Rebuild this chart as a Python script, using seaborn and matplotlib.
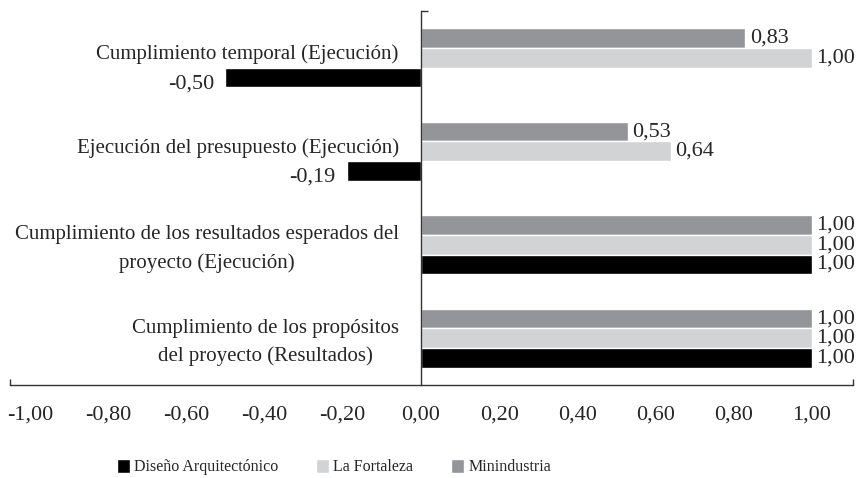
import matplotlib
matplotlib.use('Agg')
import matplotlib.pyplot as plt
import seaborn as sns
import pandas as pd
from matplotlib.patches import Patch

categorias = ['Cumplimiento temporal (Ejecución)',
              'Ejecución del presupuesto (Ejecución)',
              'Cumplimiento de los resultados esperados del\nproyecto (Ejecución)',
              'Cumplimiento de los propósitos\ndel proyecto (Resultados)']
diseno = [-0.50, -0.19, 1.00, 1.00]
fortaleza = [1.00, 0.64, 1.00, 1.00]
minindustria = [0.83, 0.53, 1.00, 1.00]

series = ['Diseño Arquitectónico', 'La Fortaleza', 'Minindustria']
colores = {'Diseño Arquitectónico': '#000000',
           'La Fortaleza': '#d1d3d4',
           'Minindustria': '#939598'}
ticks_x = [-1.0, -0.8, -0.6, -0.4, -0.2, 0.0, 0.2, 0.4, 0.6, 0.8, 1.0]


def fmt(v):
    return f"{v:.2f}".replace('.', ',')


def main():
    sns.set_theme(style='white')
    plt.rcParams['font.family'] = ['Liberation Serif', 'DejaVu Serif']
    plt.rcParams['font.size'] = 15

    filas = []
    for s, vals in zip(series, [diseno, fortaleza, minindustria]):
        for c, v in zip(categorias, vals):
            filas.append({'categoria': c, 'serie': s, 'valor': v})
    df = pd.DataFrame(filas)

    fig = plt.figure(figsize=(8.61, 4.78), dpi=100)
    ax = fig.add_axes([9.5 / 861, (478 - 385) / 478, (853 - 9.5) / 861, (385 - 11) / 478])

    sns.barplot(data=df, y='categoria', x='valor', hue='serie',
                order=categorias,
                hue_order=['Minindustria', 'La Fortaleza', 'Diseño Arquitectónico'],
                palette=colores, orient='h', width=0.63, saturation=1,
                errorbar=None, legend=False, ax=ax)

    for cont in ax.containers:
        txts = ax.bar_label(cont, labels=[fmt(v) for v in cont.datavalues],
                            padding=3, fontsize=16)
        for t, v in zip(txts, cont.datavalues):
            if v < 0:
                t.set_x(-8)
                t.set_y(-4.5)

    ax.set_xlim(-1.052, 1.105)
    ax.set_ylim(3.5, -0.5)
    ax.set_xlabel('')
    ax.set_ylabel('')

    ax.set_xticks(ticks_x)
    ax.set_xticklabels([fmt(t) for t in ticks_x])
    ax.set_xticks([-1.052, 1.105], minor=True)
    ax.set_yticks(range(len(categorias)))
    ax.set_yticklabels([])
    ax.set_yticks([-0.5], minor=True)
    ax.tick_params(axis='x', which='both', bottom=True)
    ax.tick_params(axis='y', which='both', left=True)
    ax.tick_params(axis='x', which='major', length=0, pad=15, labelsize=16)
    ax.tick_params(axis='x', which='minor', length=4, width=1, direction='in', color='#333333')
    ax.tick_params(axis='y', which='major', length=0)
    ax.tick_params(axis='y', which='minor', length=5, width=1, direction='in', color='#333333')

    # etiquetas de categoria junto al eje en x=0
    for i, c in enumerate(categorias):
        dy = 2.5 if '\n' not in c else -3
        ax.annotate(c, xy=(0, i), xycoords='data', xytext=(-16, dy),
                    textcoords='offset points', ha='right', va='center',
                    multialignment='center', linespacing=1.6, fontsize=15)

    ax.spines['top'].set_visible(False)
    ax.spines['right'].set_visible(False)
    ax.spines['left'].set_position(('data', 0))
    for sp in ['left', 'bottom']:
        ax.spines[sp].set_color('#333333')
        ax.spines[sp].set_linewidth(1)

    handles = [Patch(facecolor=colores[s]) for s in series]
    fig.legend(handles, series, loc='center', bbox_to_anchor=(334 / 861, 11 / 478),
               ncol=3, frameon=False, handlelength=0.8, handleheight=0.95,
               handletextpad=0.25, columnspacing=2.4, fontsize=11.5)

    fig.savefig('out.png', dpi=100)
    plt.close()


if __name__ == '__main__':
    main()
